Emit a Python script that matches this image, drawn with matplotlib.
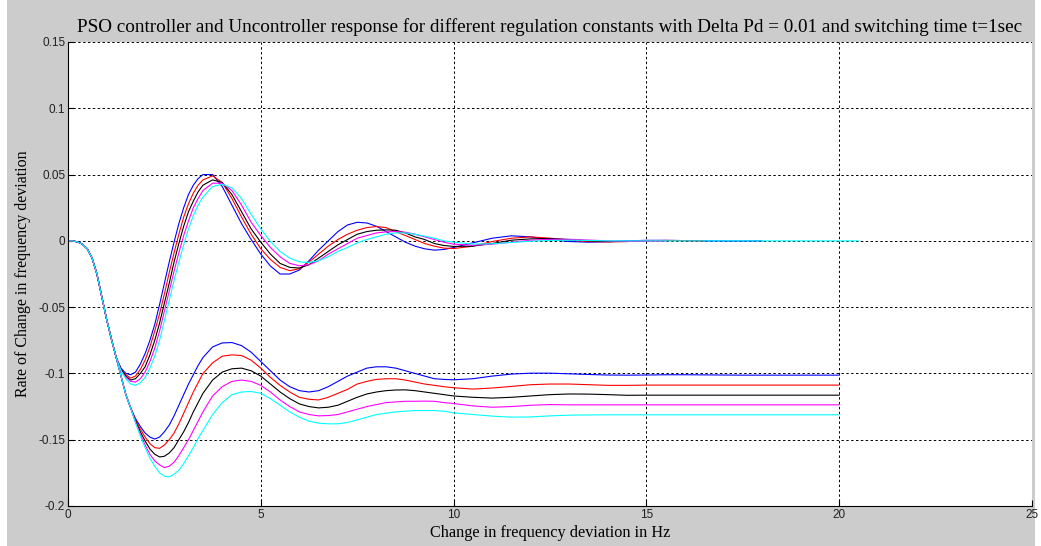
import matplotlib
matplotlib.use("Agg")
import matplotlib.pyplot as plt
from matplotlib.patches import Rectangle

# sample times (s)
t = [0, 0.125, 0.25, 0.375, 0.5, 0.625, 0.75, 0.875, 1.0, 1.125, 1.25,
     1.375, 1.5, 1.625, 1.75, 1.875, 2.0, 2.125, 2.25, 2.375, 2.5, 2.625, 2.75,
     2.875, 3.0, 3.125, 3.25, 3.375, 3.5,
     3.75, 4.0, 4.25, 4.5, 4.75, 5.0, 5.25, 5.5, 5.75, 6.0, 6.25, 6.5, 6.75,
     7.0, 7.25, 7.5, 7.75, 8.0, 8.25, 8.5, 8.75, 9.0, 9.25, 9.5, 9.75, 10.0,
     10.5, 11.0, 11.5, 12.0, 12.5, 13.0, 13.5, 14.0, 14.5, 15.0, 15.5, 16.0,
     16.5, 17.0, 17.5, 18.0, 18.5, 19.0, 19.5, 20.0, 20.5]

# common start of all responses (t = 0 .. 1.25)
start = [0, -0.0001, -0.0008, -0.0025, -0.006, -0.013, -0.025, -0.042, -0.059, -0.074, -0.088]

# PSO controlled responses (from t = 1.375)
pso_blue = [-0.096, -0.100, -0.101, -0.099, -0.093, -0.085, -0.075, -0.063, -0.048, -0.032,
            -0.016, -0.001, 0.013, 0.025, 0.035, 0.042, 0.047, 0.050,
            0.050, 0.041, 0.027, 0.013, 0.001, -0.010, -0.019, -0.025, -0.025, -0.022, -0.015,
            -0.007, 0.000, 0.007, 0.012, 0.014, 0.0135, 0.011, 0.007, 0.003, -0.001, -0.004,
            -0.006, -0.007, -0.0065, -0.005,
            -0.0015, 0.002, 0.0038, 0.003, 0.001, -0.0005, -0.001, -0.0007, 0.0, 0.0004, 0.0004,
            0.0002, 0.0, -0.0001, -0.0001, 0.0]
pso_red = [-0.097, -0.101, -0.1035, -0.102, -0.097, -0.090, -0.080, -0.068, -0.055, -0.040,
           -0.024, -0.009, 0.005, 0.018, 0.028, 0.036, 0.042, 0.046,
           0.049, 0.044, 0.032, 0.018, 0.005, -0.006, -0.014, -0.020, -0.0225, -0.021, -0.016,
           -0.010, -0.004, 0.001, 0.005, 0.008, 0.010, 0.0108, 0.010, 0.007, 0.004, 0.001,
           -0.002, -0.004, -0.0055, -0.0058,
           -0.004, -0.0005, 0.002, 0.003, 0.002, 0.0005, -0.0005, -0.0008, -0.0005, 0.0, 0.0003,
           0.0002, 0.0]
pso_black = [-0.097, -0.102, -0.105, -0.104, -0.100, -0.095, -0.086, -0.075, -0.062, -0.047,
             -0.032, -0.016, -0.002, 0.011, 0.022, 0.030, 0.037, 0.042,
             0.046, 0.044, 0.035, 0.022, 0.009, -0.001, -0.010, -0.017, -0.020, -0.0205, -0.018,
             -0.013, -0.008, -0.003, 0.001, 0.005, 0.007, 0.008, 0.0083, 0.008, 0.006, 0.003,
             0.001, -0.002, -0.0035, -0.0042,
             -0.004, -0.002, 0.0005, 0.0015, 0.0018, 0.001, 0.0, -0.0005, -0.0005]
pso_magenta = [-0.098, -0.103, -0.106, -0.1065, -0.104, -0.099, -0.091, -0.081, -0.068, -0.053,
               -0.038, -0.023, -0.009, 0.004, 0.015, 0.025, 0.032, 0.038,
               0.0435, 0.0435, 0.038, 0.027, 0.014, 0.004, -0.005, -0.012, -0.017, -0.0188, -0.018,
               -0.015, -0.010, -0.006, -0.002, 0.002, 0.004, 0.006, 0.0068, 0.007, 0.0065, 0.005,
               0.003, 0.001, -0.001, -0.0025,
               -0.0033, -0.0025, -0.001, 0.0005, 0.0012, 0.0012, 0.0006, 0.0, -0.0003, -0.0003,
               -0.0001]
pso_cyan = [-0.098, -0.104, -0.108, -0.109, -0.107, -0.103, -0.096, -0.087, -0.075, -0.060,
            -0.045, -0.030, -0.016, -0.003, 0.009, 0.019, 0.027, 0.033,
            0.041, 0.0427, 0.040, 0.032, 0.020, 0.009, -0.0005, -0.008, -0.013, -0.0158, -0.0163,
            -0.015, -0.012, -0.008, -0.005, -0.0015, 0.001, 0.003, 0.005, 0.006, 0.006, 0.005,
            0.0035, 0.002, 0.0, -0.001,
            -0.0024, -0.0022, -0.0012, -0.0003, 0.0003, 0.0005, 0.0003, 0.0, 0.0, 0.0, 0.0,
            0.0, 0.0, 0.0, 0.0, 0.0, 0.0, 0.0, 0.0, 0.0, 0.0]

# uncontrolled responses (from t = 1.375, end at t = 20)
unc_blue = [-0.102, -0.116, -0.126, -0.134, -0.140, -0.145, -0.148, -0.1495, -0.148, -0.144,
            -0.139, -0.132, -0.124, -0.116, -0.108, -0.101, -0.094, -0.088,
            -0.080, -0.077, -0.0767, -0.079, -0.084, -0.091, -0.098, -0.105, -0.110, -0.113, -0.114,
            -0.113, -0.110, -0.106, -0.102, -0.099, -0.096, -0.095, -0.095, -0.096, -0.098, -0.100,
            -0.102, -0.104, -0.1045, -0.1048,
            -0.104, -0.102, -0.1005, -0.0998, -0.0998, -0.1003, -0.1008, -0.1012, -0.1013, -0.1012,
            -0.101, -0.101, -0.1011, -0.1012, -0.1013, -0.1013, -0.1013, -0.1013, -0.1013, -0.1013]
unc_red = [-0.102, -0.116, -0.126, -0.135, -0.142, -0.148, -0.153, -0.156, -0.1565, -0.154,
           -0.150, -0.145, -0.138, -0.130, -0.122, -0.114, -0.107, -0.100,
           -0.092, -0.087, -0.086, -0.0865, -0.090, -0.096, -0.103, -0.109, -0.114, -0.118, -0.1195,
           -0.120, -0.118, -0.115, -0.112, -0.108, -0.106, -0.1045, -0.104, -0.104, -0.105, -0.1065,
           -0.108, -0.109, -0.110, -0.1108,
           -0.1118, -0.111, -0.1098, -0.1085, -0.108, -0.108, -0.1085, -0.109, -0.109, -0.1088,
           -0.1088, -0.1088, -0.1088, -0.1088, -0.1088, -0.1088, -0.1088, -0.1088, -0.1088, -0.1088]
unc_black = [-0.102, -0.116, -0.126, -0.136, -0.144, -0.151, -0.157, -0.161, -0.163, -0.1625,
             -0.160, -0.156, -0.150, -0.144, -0.137, -0.129, -0.122, -0.115,
             -0.105, -0.099, -0.0965, -0.096, -0.098, -0.102, -0.108, -0.114, -0.119, -0.123, -0.125,
             -0.126, -0.1255, -0.124, -0.121, -0.118, -0.1155, -0.114, -0.113, -0.1125, -0.1124,
             -0.113, -0.114, -0.115, -0.116, -0.117,
             -0.118, -0.1186, -0.118, -0.117, -0.116, -0.1155, -0.1156, -0.116, -0.1165, -0.1164,
             -0.1164, -0.1164, -0.1164, -0.1164, -0.1164, -0.1164, -0.1164, -0.1164, -0.1164, -0.1164]
unc_magenta = [-0.102, -0.116, -0.126, -0.137, -0.146, -0.154, -0.161, -0.166, -0.169, -0.171,
               -0.170, -0.167, -0.162, -0.156, -0.150, -0.143, -0.136, -0.129,
               -0.117, -0.110, -0.106, -0.105, -0.106, -0.109, -0.114, -0.120, -0.125, -0.129, -0.131,
               -0.132, -0.1318, -0.131, -0.129, -0.127, -0.125, -0.1235, -0.122, -0.1215, -0.121,
               -0.121, -0.1209, -0.121, -0.122, -0.1227,
               -0.1245, -0.1255, -0.125, -0.124, -0.1235, -0.1237, -0.1237, -0.1237, -0.1237, -0.1237,
               -0.1237, -0.1237, -0.1237, -0.1237, -0.1237, -0.1237, -0.1237, -0.1237, -0.1237, -0.1237]
unc_cyan = [-0.102, -0.116, -0.126, -0.137, -0.147, -0.156, -0.164, -0.170, -0.175, -0.1775,
            -0.178, -0.176, -0.173, -0.168, -0.162, -0.156, -0.149, -0.143,
            -0.131, -0.122, -0.116, -0.114, -0.1136, -0.115, -0.119, -0.124, -0.129, -0.133, -0.136,
            -0.1375, -0.138, -0.138, -0.137, -0.135, -0.133, -0.131, -0.130, -0.129, -0.1285,
            -0.128, -0.128, -0.128, -0.1285, -0.1297,
            -0.131, -0.1322, -0.133, -0.1328, -0.132, -0.1315, -0.1313, -0.1312, -0.1312, -0.1312,
            -0.1312, -0.1312, -0.1312, -0.1312, -0.1312, -0.1312, -0.1312, -0.1312, -0.1312, -0.1312]

colors = ['#0000ff', '#ff0000', '#000000', '#ff00ff', '#00ffff']
pso = [pso_blue, pso_red, pso_black, pso_magenta, pso_cyan]
unc = [unc_blue, unc_red, unc_black, unc_magenta, unc_cyan]

title = "PSO controller and Uncontroller response for different regulation constants with Delta Pd = 0.01 and switching time t=1sec"
xlabel = "Change in frequency deviation in Hz"
ylabel = "Rate of Change in frequency deviation"

fig = plt.figure(figsize=(10.41, 5.46), dpi=100)
fig.patch.set_facecolor('white')
# grey matlab-like figure area
fig.patches.append(Rectangle((7 / 1041, 0), 1028 / 1041, 1, transform=fig.transFigure,
                             facecolor='#cccccc', edgecolor='none', zorder=-10))

ax = fig.add_axes([68 / 1041, 40 / 546, 964 / 1041, 464 / 546])
ax.set_facecolor('white')

for c, y in zip(colors, unc):
    y = start + y
    ax.plot(t[:len(y)], y, color=c, lw=0.8)
for c, y in zip(colors, pso):
    y = start + y
    ax.plot(t[:len(y)], y, color=c, lw=0.8)

ax.set_xlim(0, 25)
ax.set_ylim(-0.2, 0.15)
ax.set_xticks([0, 5, 10, 15, 20, 25])
ax.set_yticks([-0.2, -0.15, -0.1, -0.05, 0, 0.05, 0.1, 0.15])
ax.set_yticklabels(['-0.2', '-0.15', '-0.1', '-0.05', '0', '0.05', '0.1', '0.15'])
ax.grid(True, color='black', linestyle=(0, (2.5, 2.5)), linewidth=0.7)
ax.spines['top'].set_visible(False)
ax.spines['right'].set_visible(False)
ax.tick_params(direction='in', length=4, width=0.8, labelsize=8.5, colors='black', pad=2,
               top=False, right=False)
for lab in ax.get_xticklabels() + ax.get_yticklabels():
    lab.set_fontfamily(['Liberation Sans Narrow', 'Liberation Sans'])
    lab.set_color('#222222')

ax.set_title(title, fontsize=13.8, family='Liberation Serif', pad=7)
ax.set_xlabel(xlabel, fontsize=11.7, family='Liberation Serif', labelpad=3)
ax.set_ylabel(ylabel, fontsize=11.5, family='Liberation Serif', labelpad=5)

fig.savefig('out.png', dpi=100, facecolor=fig.get_facecolor())
